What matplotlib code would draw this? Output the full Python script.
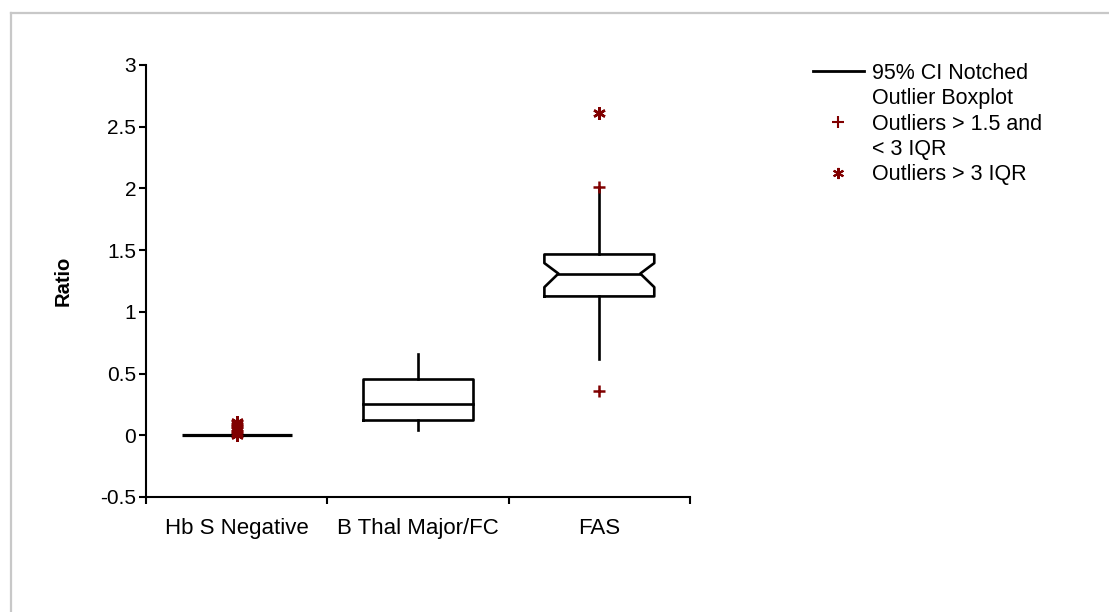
import matplotlib
matplotlib.use("Agg")
import matplotlib.pyplot as plt
from matplotlib.lines import Line2D

plt.rcParams['font.family'] = ['Liberation Sans', 'DejaVu Sans']

categories = ["Hb S Negative", "B Thal Major/FC", "FAS"]
q1 = [0.0, 0.12, 1.125]
median = [0.0, 0.25, 1.31]
q3 = [0.0, 0.455, 1.465]
whisker_low = [0.0, 0.04, 0.615]
whisker_high = [0.0, 0.655, 2.01]
notch_low = [None, None, 1.20]
notch_high = [None, None, 1.395]
mild_outliers = [[], [], [2.01, 0.355]]
extreme_outliers = [[0.0, 0.02, 0.04, 0.06, 0.08, 0.10, 0.11], [], [2.61]]
yticks = [-0.5, 0, 0.5, 1, 1.5, 2, 2.5, 3]

FS = 15
XFS = 16
LFS = 15.5
DARK = "#800000"

fig = plt.figure(figsize=(11.09, 6.12), dpi=100)
ax = fig.add_axes([146/1109, 1-497/612, (690-146)/1109, (497-65)/612])

half = 0.303
lw = 1.9
for i in range(len(categories)):
    x = i + 0.5
    l, r = x - half, x + half
    if q3[i] - q1[i] <= 0:
        ax.plot([l, r], [median[i], median[i]], color="black", lw=lw + 0.4,
                solid_capstyle="butt", zorder=2)
    elif notch_low[i] is None:
        ax.plot([l, r, r, l, l], [q1[i], q1[i], q3[i], q3[i], q1[i]],
                color="black", lw=lw, zorder=2)
        ax.plot([l, r], [median[i], median[i]], color="black", lw=lw, zorder=2)
    else:
        ni = half * 0.745
        xs = [l, r, r, x + ni, r, r, l, l, x - ni, l, l]
        ys = [q1[i], q1[i], notch_low[i], median[i], notch_high[i], q3[i],
              q3[i], notch_high[i], median[i], notch_low[i], q1[i]]
        ax.plot(xs, ys, color="black", lw=lw, zorder=2)
        ax.plot([x - ni, x + ni], [median[i], median[i]], color="black", lw=lw, zorder=2)
    if whisker_high[i] > q3[i]:
        ax.plot([x, x], [q3[i], whisker_high[i]], color="black", lw=lw, zorder=2)
    if whisker_low[i] < q1[i]:
        ax.plot([x, x], [whisker_low[i], q1[i]], color="black", lw=lw, zorder=2)
    if mild_outliers[i]:
        ax.plot([x] * len(mild_outliers[i]), mild_outliers[i], linestyle="none",
                marker="+", markersize=9, markeredgewidth=1.8, color=DARK, zorder=3)
    if extreme_outliers[i]:
        ax.plot([x] * len(extreme_outliers[i]), extreme_outliers[i], linestyle="none",
                marker=(6, 2, 0), markersize=9, markeredgewidth=1.8, color=DARK, zorder=3)

ax.set_xlim(0, 3)
ax.set_ylim(-0.5, 3)
ax.set_yticks(yticks)
ax.set_yticklabels([f"{v:g}" for v in yticks], fontsize=FS)
ax.set_xticks([0, 1, 2, 3])
ax.set_xticklabels([])
ax.set_xticks([i + 0.5 for i in range(len(categories))], minor=True)
ax.set_xticklabels(categories, minor=True, fontsize=XFS)
ax.tick_params(axis="x", which="minor", length=0, pad=15)
ax.tick_params(axis="both", which="major", length=5, width=1.5, direction="out", pad=2)
for s in ["top", "right"]:
    ax.spines[s].set_visible(False)
for s in ["left", "bottom"]:
    ax.spines[s].set_linewidth(1.5)
ax.set_ylabel("Ratio", fontsize=14.5, fontweight="bold", labelpad=20)

handles = [
    Line2D([], [], color="black", lw=2),
    Line2D([], [], linestyle="none"),
    Line2D([], [], linestyle="none", marker="+", markersize=8, markeredgewidth=1.5, color=DARK),
    Line2D([], [], linestyle="none"),
    Line2D([], [], linestyle="none", marker=(6, 2, 0), markersize=8, markeredgewidth=1.5, color=DARK),
]
labels = ["95% CI Notched", "Outlier Boxplot", "Outliers > 1.5 and", "< 3 IQR", "Outliers > 3 IQR"]
fig.legend(handles, labels, loc="upper left", bbox_to_anchor=(813/1109, 1-63/612),
           frameon=False, fontsize=LFS, handlelength=2.35, handletextpad=0.4,
           labelspacing=0.2, borderpad=0, borderaxespad=0)

fig.add_artist(Line2D([11/1109, 11/1109], [0, 1-13/612], color="#c8c8c8", lw=1.6))
fig.add_artist(Line2D([11/1109, 1], [1-13/612, 1-13/612], color="#c8c8c8", lw=1.6))

fig.savefig("out.png", dpi=100)
